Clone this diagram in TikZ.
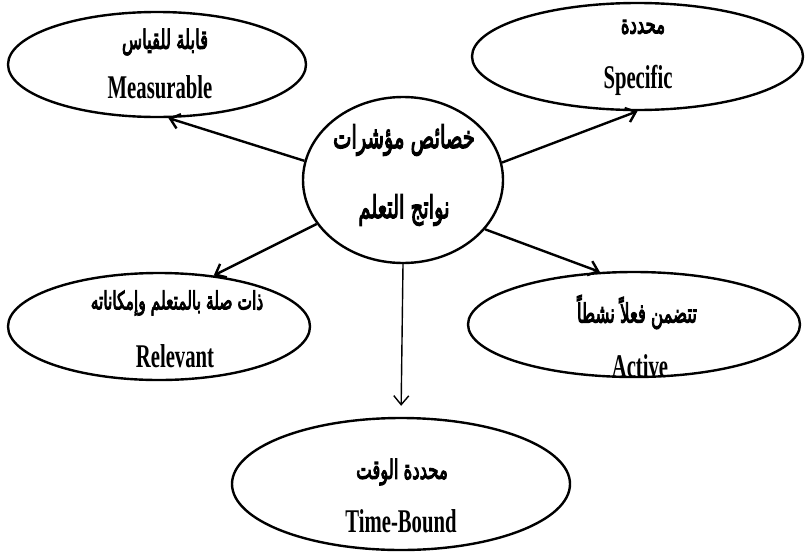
\documentclass[tikz,border=0pt]{standalone}
\usepackage{fontspec}
\setmainfont{Liberation Serif}
\newfontfamily\arabicfont[Script=Arabic, FakeBold=4.5]{DejaVu Sans}
\TeXXeTstate=1
\usetikzlibrary{arrows.meta}
\usetikzlibrary{shapes.geometric}

\newcommand{\tallbox}[1]{\scalebox{1}[1.6]{#1}}

\tikzset{
  goal/.style={ellipse, draw, line width=2.4pt, inner sep=0pt},
  entext/.style={font=\fontsize{20.7}{24}\selectfont\bfseries, inner sep=0pt, anchor=base},
  artext/.style={font=\fontsize{16.5}{20}\selectfont\arabicfont, inner sep=0pt},
  link/.style={line width=2.4pt, -{Straight Barb[length=9pt,width=15pt]}},
}

\begin{document}
\begin{tikzpicture}[x=1pt, y=-1pt]
    \useasboundingbox (0,0) rectangle (805,557);

    % Ellipses
    \node[goal, minimum width=200, minimum height=166] (hub) at (403,180) {};
    \node[goal, minimum width=298, minimum height=105] (meas) at (157,64.5) {};
    \node[goal, minimum width=331, minimum height=107] (spec) at (637.5,56.5) {};
    \node[goal, minimum width=302, minimum height=107] (rel) at (159,326.5) {};
    \node[goal, minimum width=332, minimum height=105] (act) at (634,324.5) {};
    \node[goal, minimum width=338, minimum height=132] (time) at (401,484) {};

    % Centre text
    \node[artext, font=\fontsize{19.5}{22}\selectfont\arabicfont] (hubA) at (404,140) {\tallbox{\beginR خصائص مؤشرات\endR}};
    \node[artext, font=\fontsize{19.5}{22}\selectfont\arabicfont] (hubB) at (404,210) {\tallbox{\beginR نواتج التعلم\endR}};

    % Measurable
    \node[artext] (measAr) at (165,42) {\tallbox{\beginR قابلة للقياس\endR}};
    \node[entext] (measEn) at (160,98) {\tallbox{Measurable}};

    % Specific
    \node[artext] (specAr) at (643,27) {\tallbox{\beginR محددة\endR}};
    \node[entext] (specEn) at (638,88) {\tallbox{Specific}};

    % Relevant
    \node[artext, font=\fontsize{15.5}{20}\selectfont\arabicfont] (relAr) at (177,303) {\tallbox{\beginR ذات صلة بالمتعلم وإمكاناته\endR}};
    \node[entext] (relEn) at (175,367) {\tallbox{Relevant}};

    % Active
    \node[artext] (actAr) at (637,312) {\tallbox{\beginR تتضمن فعلاً نشطاً\endR}};
    \node[entext] (actEn) at (640,377) {\tallbox{Active}};

    % Time-Bound
    \node[artext] (timeAr) at (402,472) {\tallbox{\beginR محددة الوقت\endR}};
    \node[entext] (timeEn) at (401,532) {\tallbox{Time-Bound}};

    % Arrows
    \draw[link] (hub.169) -- (meas.-78);
    \draw[link] (hub.10) -- (spec.-90);
    \draw[link] (hub.207) -- (rel.43);
    \draw[link] (hub.-31) -- (act.123);
    \draw[link, line width=1.4pt, shorten >=11pt] (hub.south) -- (time.north);
\end{tikzpicture}
\end{document}
